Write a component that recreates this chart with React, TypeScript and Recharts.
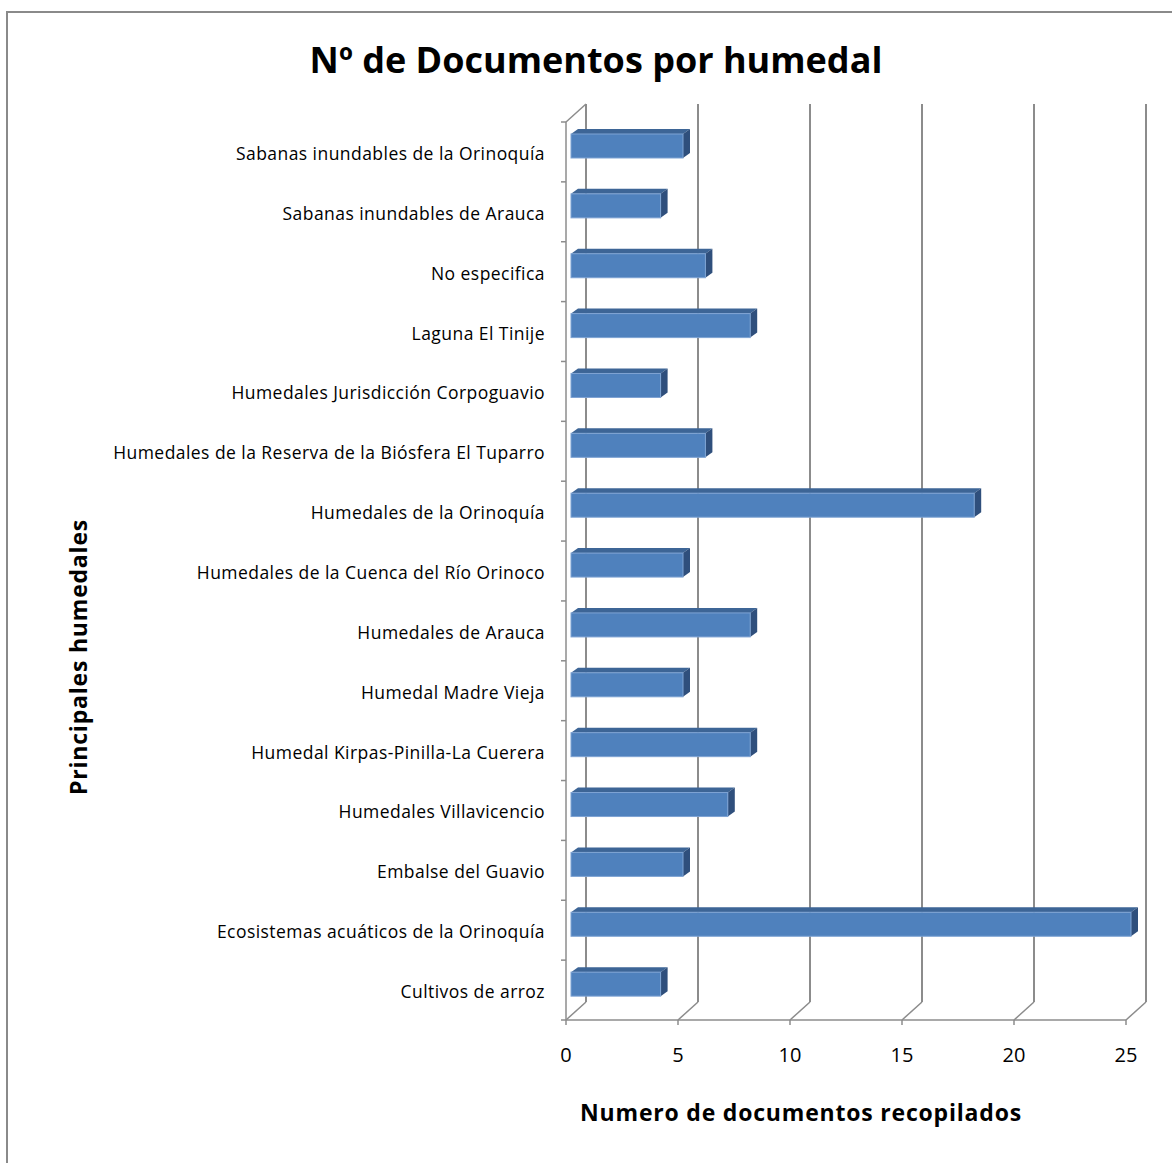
import { BarChart, Bar, XAxis, YAxis, CartesianGrid } from 'recharts';

const categories = [
  'Sabanas inundables de la Orinoquía',
  'Sabanas inundables de Arauca',
  'No especifica',
  'Laguna El Tinije',
  'Humedales Jurisdicción Corpoguavio',
  'Humedales de la Reserva de la Biósfera El Tuparro',
  'Humedales de la Orinoquía',
  'Humedales de la Cuenca del Río Orinoco',
  'Humedales de Arauca',
  'Humedal Madre Vieja',
  'Humedal Kirpas-Pinilla-La Cuerera',
  'Humedales Villavicencio',
  'Embalse del Guavio',
  'Ecosistemas acuáticos de la Orinoquía',
  'Cultivos de arroz',
];

const documentos = [5, 4, 6, 8, 4, 6, 18, 5, 8, 5, 8, 7, 5, 25, 4];

const xTicks = [0, 5, 10, 15, 20, 25];

const data = categories.map((name, i) => ({ name, value: documentos[i] }));

// layout of the plot area (front plane)
const W = 1172;
const H = 1163;
const LEFT = 566;
const RIGHT = 1126;
const TOP = 122;
const BOTTOM = 1020;
const Y_AXIS_W = 540;
const X_AXIS_H = 60;
const BAND = (BOTTOM - TOP) / categories.length;

// 3D offsets
const WALL_DX = 20;
const WALL_DY = 18;
const BAR_DX = 7;
const BAR_DY = 5;

const LINE = '#8c8c8c';
const FONT = '"Open Sans", Lato, sans-serif';

const Bar3D = (props: any) => {
  const { x, y, width, height } = props;
  const fx = x + 5;
  const fy = y - 6;
  const w = width;
  const h = height;
  return (
    <g>
      <polygon
        points={`${fx},${fy} ${fx + BAR_DX},${fy - BAR_DY} ${fx + w + BAR_DX},${fy - BAR_DY} ${fx + w},${fy}`}
        fill="#3d6596"
      />
      <polygon
        points={`${fx + w},${fy} ${fx + w + BAR_DX},${fy - BAR_DY} ${fx + w + BAR_DX},${fy + h - BAR_DY} ${fx + w},${fy + h}`}
        fill="#2f4f7c"
      />
      <rect x={fx} y={fy} width={w} height={h} fill="#4f81bd" stroke="#7ea3d3" strokeWidth={1} />
    </g>
  );
};

const GridLine = (p: any) => {
  const { x1, y1, y2, index } = p;
  return (
    <g key={p.key ?? `g-${index}`}>
      <line x1={x1} y1={y2} x2={x1 + WALL_DX} y2={y2 - WALL_DY} stroke={LINE} strokeWidth={1.5} />
      <line x1={x1 + WALL_DX} y1={y2 - WALL_DY} x2={x1 + WALL_DX} y2={y1 - WALL_DY} stroke={LINE} strokeWidth={2} />
      {index === 0 && (
        <line x1={x1} y1={y1} x2={x1 + WALL_DX} y2={y1 - WALL_DY} stroke={LINE} strokeWidth={1.5} />
      )}
    </g>
  );
};

const XTick = (props: any) => {
  const { x, y, payload } = props;
  return (
    <text x={x} y={y} dy={27} textAnchor="middle" fontSize={20} fontFamily={FONT} fill="#000">
      {payload.value}
    </text>
  );
};

const YTick = (props: any) => {
  const { x, y, payload, index } = props;
  return (
    <g>
      <line x1={LEFT - 5} y1={y - BAND / 2} x2={LEFT} y2={y - BAND / 2} stroke={LINE} strokeWidth={1.5} />
      {index === categories.length - 1 && (
        <line x1={LEFT - 5} y1={y + BAND / 2} x2={LEFT} y2={y + BAND / 2} stroke={LINE} strokeWidth={1.5} />
      )}
      <text
        x={x}
        y={y}
        dy={8}
        textAnchor="end"
        fontSize={17.5}
        letterSpacing={0.45}
        fontFamily={FONT}
        fill="#000"
      >
        {payload.value}
      </text>
    </g>
  );
};

export default function App() {
  return (
    <div
      style={{
        position: 'absolute',
        left: 0,
        top: 0,
        width: W,
        height: H,
        background: '#fff',
        fontFamily: FONT,
      }}
    >
      {/* frame, only left and top edges are visible */}
      <div style={{ position: 'absolute', left: 6, top: 11, width: W - 6, height: H - 11, borderLeft: '2px solid #8a8a8a', borderTop: '2px solid #8a8a8a' }} />

      <div
        style={{
          position: 'absolute',
          left: 0,
          width: W,
          top: 36,
          textAlign: 'center',
          fontSize: 36,
          fontWeight: 'bold',
          lineHeight: '48px',
          paddingLeft: 20,
          boxSizing: 'border-box',
        }}
      >
        Nº de Documentos por humedal
      </div>

      <BarChart
        width={W}
        height={H}
        data={data}
        layout="vertical"
        barSize={24}
        margin={{ top: TOP, right: W - RIGHT, bottom: H - BOTTOM - X_AXIS_H, left: LEFT - Y_AXIS_W }}
        style={{ position: 'absolute', left: 0, top: 0 }}
      >
        <CartesianGrid horizontal={false} vertical={GridLine} />
        <XAxis
          type="number"
          domain={[0, 25]}
          ticks={xTicks}
          interval={0}
          height={X_AXIS_H}
          tickSize={5}
          tickMargin={10}
          stroke={LINE}
          tickLine={{ stroke: LINE, strokeWidth: 1.5 }}
          axisLine={{ stroke: LINE, strokeWidth: 1.5 }}
          tick={<XTick />}
        />
        <YAxis
          type="category"
          dataKey="name"
          width={Y_AXIS_W}
          interval={0}
          tickSize={0}
          tickMargin={21}
          tickLine={false}
          axisLine={{ stroke: LINE, strokeWidth: 1.5 }}
          tick={<YTick />}
        />
        <Bar dataKey="value" shape={Bar3D} isAnimationActive={false} />
      </BarChart>

      <div
        style={{
          position: 'absolute',
          left: 501,
          width: 600,
          top: 1097,
          textAlign: 'center',
          fontSize: 23,
          fontWeight: 'bold',
          letterSpacing: 0.8,
          lineHeight: '30px',
          whiteSpace: 'nowrap',
        }}
      >
        Numero de documentos recopilados
      </div>

      <div
        style={{
          position: 'absolute',
          left: 78 - 200,
          top: 657 - 15,
          width: 400,
          textAlign: 'center',
          fontSize: 23,
          fontWeight: 'bold',
          letterSpacing: 0.8,
          lineHeight: '30px',
          transform: 'rotate(-90deg)',
          whiteSpace: 'nowrap',
        }}
      >
        Principales humedales
      </div>
    </div>
  );
}
